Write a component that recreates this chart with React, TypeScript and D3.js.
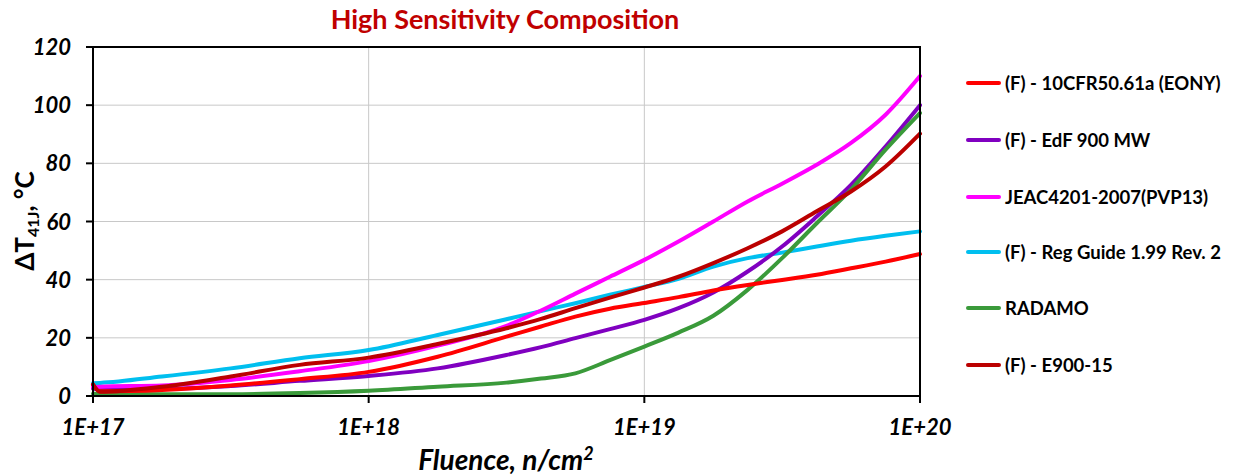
import React from "react";
import * as d3 from "d3";

const fluence = [1.0e17, 1.06e17, 1.78e17, 3.16e17, 5.62e17, 1.0e18, 1.78e18, 3.16e18, 4.22e18, 5.62e18, 7.5e18, 1.0e19, 1.33e19, 1.78e19, 2.37e19, 3.16e19, 4.22e19, 5.62e19, 7.5e19, 1.0e20];

const cfr61a = [3.8, 1.6, 2.1, 3.6, 5.8, 8.3, 13.5, 20.4, 23.9, 27.3, 30.0, 32.0, 34.0, 36.3, 38.2, 39.9, 41.7, 43.9, 46.2, 48.8];
const edf900 = [2.5, 2.4, 2.4, 3.4, 5.2, 6.9, 9.5, 14.1, 16.8, 19.9, 23.0, 26.2, 30.2, 35.6, 42.8, 51.4, 61.7, 72.6, 85.8, 100.0];
const jeac = [3.0, 3.2, 3.6, 5.5, 8.5, 12.0, 17.3, 24.1, 29.4, 35.2, 41.0, 46.8, 53.1, 60.0, 66.9, 73.0, 79.5, 87.0, 96.7, 110.0];
const regGuide = [4.4, 4.5, 6.7, 9.5, 13.0, 15.8, 21.0, 26.4, 29.2, 31.9, 34.8, 37.5, 40.3, 44.5, 47.4, 49.3, 51.4, 53.4, 55.1, 56.6];
const radamo = [0.8, 0.8, 0.6, 0.6, 1.0, 1.8, 3.2, 4.6, 6.0, 7.8, 12.3, 17.0, 21.8, 27.6, 36.5, 47.4, 59.4, 71.0, 84.7, 97.3];
const e900 = [4.0, 1.5, 3.2, 6.7, 10.7, 13.2, 17.9, 23.3, 26.5, 30.2, 33.8, 37.3, 41.0, 45.7, 50.8, 56.6, 63.5, 70.3, 78.9, 90.2];

const seriesNames = ["(F) - 10CFR50.61a (EONY)", "(F) - EdF 900 MW", "JEAC4201-2007(PVP13)", "(F) - Reg Guide 1.99 Rev. 2", "RADAMO", "(F) - E900-15"];
const seriesColors = ["#FF0000", "#8000C0", "#FF00FF", "#00BFEF", "#3A9A3A", "#BB0000"];
const seriesValues = [cfr61a, edf900, jeac, regGuide, radamo, e900];
// drawing order (later on top)
const drawOrder = [3, 1, 4, 0, 2, 5];

const xTicks = [1e17, 1e18, 1e19, 1e20];
const xTickLabels = ["1E+17", "1E+18", "1E+19", "1E+20"];
const yTicks = [0, 20, 40, 60, 80, 100, 120];

const W = 1244, H = 476;
const L = 93, R = 920, T = 47, B = 396;
const FONT = "Lato, 'Open Sans', 'DejaVu Sans', sans-serif";

export default function App() {
  const x = d3.scaleLog().domain([1e17, 1e20]).range([L, R]);
  const y = d3.scaleLinear().domain([0, 120]).range([B, T]);
  const line = d3
    .line<[number, number]>()
    .x((d) => x(d[0]))
    .y((d) => y(d[1]))
    .curve(d3.curveMonotoneX);

  const legendY = [83, 140, 197, 252, 308, 365];

  return (
    <svg width={W} height={H} style={{ position: "absolute", left: 0, top: 0, background: "#fff" }} fontFamily={FONT}>
      <rect x={0} y={0} width={W} height={H} fill="#fff" />
      <text x={505} y={29} textAnchor="middle" fill="#C00000" fontSize={27} fontWeight={700}>
        High Sensitivity Composition
      </text>
      {/* grid */}
      {yTicks.slice(1, -1).map((t) => (
        <line key={"gy" + t} x1={L} x2={R} y1={y(t)} y2={y(t)} stroke="#C8C8C8" strokeWidth={1} />
      ))}
      {xTicks.slice(1, -1).map((t) => (
        <line key={"gx" + t} x1={x(t)} x2={x(t)} y1={T} y2={B} stroke="#C8C8C8" strokeWidth={1} />
      ))}
      {/* series */}
      {drawOrder.map((i) => (
        <path
          key={"s" + i}
          d={line(fluence.map((f, k) => [f, seriesValues[i][k]] as [number, number])) || ""}
          fill="none"
          stroke={seriesColors[i]}
          strokeWidth={4}
          strokeLinejoin="round"
          strokeLinecap="round"
        />
      ))}
      {/* frame */}
      <rect x={L} y={T} width={R - L} height={B - T} fill="none" stroke="#000" strokeWidth={2} />
      {/* y ticks */}
      {yTicks.map((t) => (
        <g key={"yt" + t}>
          <line x1={L - 7} x2={L} y1={y(t)} y2={y(t)} stroke="#000" strokeWidth={2} />
          <text x={71} y={y(t) + 8} textAnchor="end" fontSize={22} fontWeight={700} fontStyle="italic" fill="#000">
            {t}
          </text>
        </g>
      ))}
      {/* x ticks */}
      {xTicks.map((t, i) => (
        <g key={"xt" + t}>
          <line x1={x(t)} x2={x(t)} y1={B} y2={B + 7} stroke="#000" strokeWidth={2} />
          <text x={x(t)} y={435} textAnchor="middle" fontSize={22} fontWeight={700} fontStyle="italic" fill="#000">
            {xTickLabels[i]}
          </text>
        </g>
      ))}
      {/* axis titles */}
      <text x={506} y={470} textAnchor="middle" fontSize={28} fontWeight={700} fontStyle="italic" fill="#000">
        Fluence, n/cm<tspan dy={-10} fontSize={18}>2</tspan>
      </text>
      <text transform="translate(34,221) rotate(-90)" textAnchor="middle" fontSize={26} fontWeight={700} fill="#000">
        ΔT<tspan dy={5} fontSize={16}>41J</tspan>
        <tspan dy={-5}>, °C</tspan>
      </text>
      {/* legend */}
      {seriesNames.map((n, i) => (
        <g key={"lg" + i}>
          <line x1={968} x2={999} y1={legendY[i]} y2={legendY[i]} stroke={seriesColors[i]} strokeWidth={4} strokeLinecap="round" />
          <text x={1005} y={legendY[i] + 6.5} fontSize={18.5} fontWeight={700} fill="#000">
            {n}
          </text>
        </g>
      ))}
    </svg>
  );
}
